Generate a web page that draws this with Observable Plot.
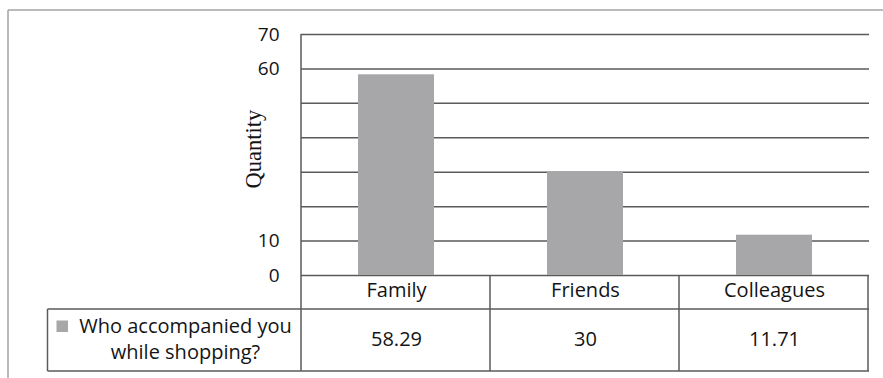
<!DOCTYPE html>
<html>
<head>
<meta charset="utf-8">
<script src="https://cdn.jsdelivr.net/npm/d3@7"></script>
<script src="https://cdn.jsdelivr.net/npm/@observablehq/plot@0.6"></script>
<style>
  body { margin: 0; background: #fff; }
</style>
</head>
<body>
<div id="chart"></div>
<script>
// Survey answers: who accompanied the respondent while shopping (%)
const categories = ["Family", "Friends", "Colleagues"];
const values = [58.29, 30, 11.71];
const yTickLabels = [0, 10, 60, 70];
const gridValues = [0, 10, 20, 30, 40, 50, 60, 70];
const seriesLabel = ["Who accompanied you", "while shopping?"];
const yLabel = "Quantity";

const rows = categories.map((category, i) => ({ category, value: values[i] }));

const W = 883, H = 378;
const mL = 301, mR = 14, mT = 34, mB = 103;
const sans = "'Open Sans', 'Liberation Sans', sans-serif";
const barColor = "#a7a7a9";
const lineColor = "#5a5a5a";
const textColor = "#141414";
const fs = 20;

const plot = Plot.plot({
  width: W,
  height: H,
  marginLeft: mL,
  marginRight: mR,
  marginTop: mT,
  marginBottom: mB,
  style: { fontFamily: sans, fontSize: "19px", color: textColor, background: "#fff", overflow: "visible" },
  x: { domain: categories, paddingInner: 0.6, paddingOuter: 0.3, axis: null },
  y: { domain: [0, 70], ticks: yTickLabels, tickSize: 0, tickPadding: 22, label: null },
  marks: [
    Plot.gridY(gridValues, { stroke: lineColor, strokeOpacity: 1, strokeWidth: 1.5 }),
    Plot.barY(rows, { x: "category", y: "value", fill: barColor }),
    // category header row of the data table
    Plot.text(rows, { x: "category", text: "category", frameAnchor: "bottom", lineAnchor: "middle", dy: 15.5, fontSize: fs, fill: textColor }),
    // value row of the data table
    Plot.text(rows, { x: "category", text: d => String(d.value), frameAnchor: "bottom", lineAnchor: "middle", dy: 64, fontSize: fs, fill: textColor })
  ]
});

document.getElementById("chart").append(plot);

// Table grid, frame and labels drawn around the plot area
const svg = d3.select(plot);
const xs = plot.scale("x");
const step = xs.step;
const x0 = mL;
const yZero = H - mB;          // table top (value 0)
const yRow1 = yZero + 34;      // header / value row divider
const yRow2 = yZero + 96;      // table bottom
const xRight = W - mR;
const tableLeft = 47.5;

const g = svg.append("g").attr("stroke", lineColor).attr("stroke-width", 1.5).attr("fill", "none");
// left spine of the plot area
g.append("line").attr("x1", x0).attr("x2", x0).attr("y1", mT).attr("y2", yZero);
// vertical column dividers
for (let i = 0; i <= categories.length; i++) {
  const x = x0 + i * step;
  g.append("line").attr("x1", x).attr("x2", x).attr("y1", yZero).attr("y2", yRow2);
}
g.append("line").attr("x1", tableLeft).attr("x2", tableLeft).attr("y1", yRow1).attr("y2", yRow2);
g.append("line").attr("x1", tableLeft).attr("x2", xRight).attr("y1", yRow1).attr("y2", yRow1);
g.append("line").attr("x1", tableLeft).attr("x2", xRight).attr("y1", yRow2).attr("y2", yRow2);

// outer frame
const f = svg.append("g").attr("stroke", "#a3a3a3").attr("stroke-width", 1.5);
f.append("line").attr("x1", 8).attr("x2", W).attr("y1", 10).attr("y2", 10);
f.append("line").attr("x1", 8).attr("x2", 8).attr("y1", 10).attr("y2", H);

// legend swatch and series name
svg.append("rect").attr("x", 56.5).attr("y", 320.5).attr("width", 11.5).attr("height", 11.5).attr("fill", barColor);
const lbl = svg.append("text")
  .attr("text-anchor", "middle")
  .attr("font-family", sans)
  .attr("font-size", fs)
  .attr("fill", textColor);
seriesLabel.forEach((t, i) => {
  lbl.append("tspan").attr("x", 185.5).attr("y", 333 + i * 26).text(t);
});

// y axis title
svg.append("text")
  .attr("transform", "translate(261,149) rotate(-90)")
  .attr("text-anchor", "middle")
  .attr("font-family", "'Liberation Serif', 'DejaVu Serif', serif")
  .attr("font-size", 22.5)
  .attr("fill", textColor)
  .text(yLabel);
</script>
</body>
</html>
